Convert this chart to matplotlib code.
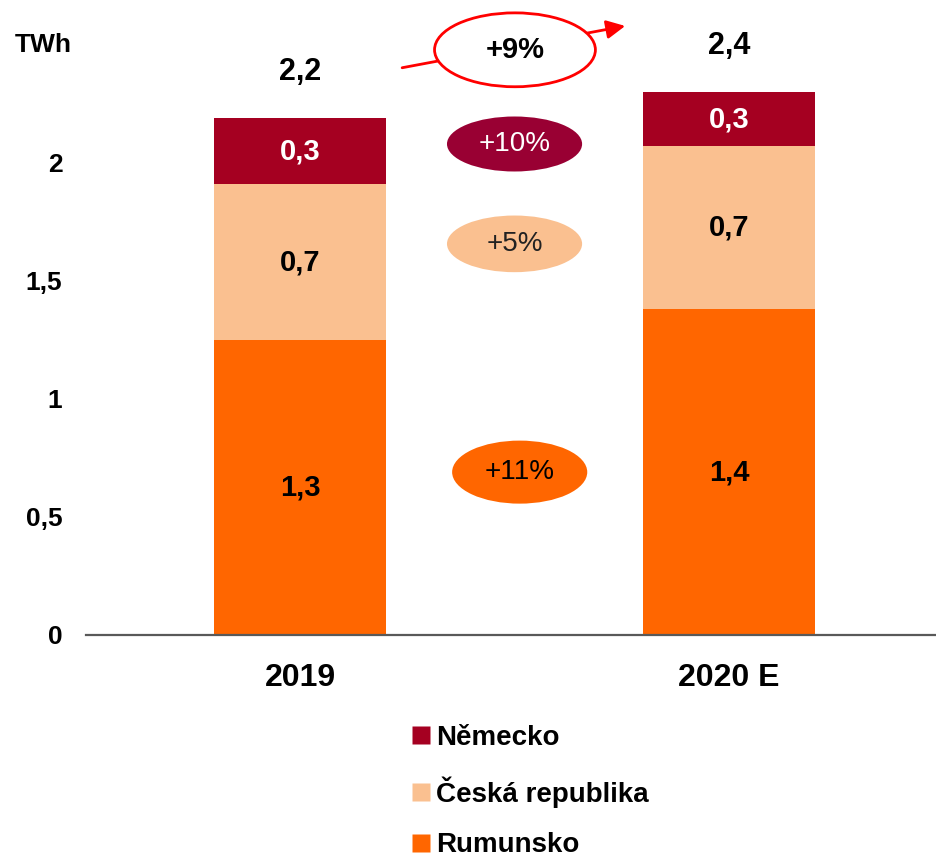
import matplotlib
matplotlib.use("Agg")
import matplotlib.pyplot as plt
from matplotlib.patches import Ellipse
from matplotlib.lines import Line2D

plt.rcParams['font.family'] = ['Liberation Sans', 'DejaVu Sans']

# ---- data ----
categories = ["2019", "2020 E"]
series_names = ["Rumunsko", "Česká republika", "Německo"]
rumunsko = [1.25, 1.38]
ceska = [0.66, 0.69]
nemecko = [0.28, 0.23]
rumunsko_labels = ["1,3", "1,4"]
ceska_labels = ["0,7", "0,7"]
nemecko_labels = ["0,3", "0,3"]
total_labels = ["2,2", "2,4"]
growth_total = "+9%"
growth_nemecko = "+10%"
growth_ceska = "+5%"
growth_rumunsko = "+11%"
yticks = [0, 0.5, 1, 1.5, 2]
ytick_labels = ["0", "0,5", "1", "1,5", "2"]
unit = "TWh"

# ---- style ----
c_rum = "#FF6600"
c_cz = "#FAC090"
c_de = "#A50021"

W, H = 936, 861
fig = plt.figure(figsize=(W / 100, H / 100), dpi=100)
ax = fig.add_axes([86 / W, (H - 635) / H, (W - 86) / W, 635 / H])

x = list(range(len(categories)))
bw = 0.4
b1 = ax.bar(x, rumunsko, bw, color=c_rum, label=series_names[0])
b2 = ax.bar(x, ceska, bw, bottom=rumunsko, color=c_cz, label=series_names[1])
bottom3 = [a + b for a, b in zip(rumunsko, ceska)]
b3 = ax.bar(x, nemecko, bw, bottom=bottom3, color=c_de, label=series_names[2])

ax.set_xlim(-0.499, 1.4825)
ax.set_ylim(0, 2.69)

for i in x:
    ax.text(i, rumunsko[i] / 2, rumunsko_labels[i], ha='center', va='center',
            fontsize=21, fontweight='bold', color='black')
    ax.text(i, rumunsko[i] + ceska[i] / 2, ceska_labels[i], ha='center', va='center',
            fontsize=21, fontweight='bold', color='black')
    ax.text(i, bottom3[i] + nemecko[i] / 2, nemecko_labels[i], ha='center', va='center',
            fontsize=21, fontweight='bold', color='white')
    top = bottom3[i] + nemecko[i]
    ax.annotate(total_labels[i], (i, top), xytext=(0, 33), textcoords='offset points',
                ha='center', va='center', fontsize=22, fontweight='bold')

# growth ellipses
ax.annotate('', xy=(0.758, 2.58), xytext=(0.238, 2.403),
            arrowprops=dict(arrowstyle='-|>', color='#FF0000', lw=2,
                            mutation_scale=28, shrinkA=0, shrinkB=0), zorder=3)
ax.add_patch(Ellipse((0.501, 2.479), 0.375, 0.313, facecolor='white',
                     edgecolor='#FF0000', lw=2, zorder=4))
ax.text(0.501, 2.479, growth_total, ha='center', va='center', fontsize=21,
        fontweight='bold', zorder=5)

ax.add_patch(Ellipse((0.50, 2.08), 0.315, 0.233, facecolor='#990033',
                     edgecolor='none', zorder=4))
ax.text(0.50, 2.08, growth_nemecko, ha='center', va='center', fontsize=20,
        color='white', zorder=5)

ax.add_patch(Ellipse((0.50, 1.657), 0.315, 0.24, facecolor=c_cz,
                     edgecolor='none', zorder=4))
ax.text(0.50, 1.657, growth_ceska, ha='center', va='center', fontsize=20,
        color='#222222', zorder=5)

ax.add_patch(Ellipse((0.512, 0.69), 0.315, 0.267, facecolor=c_rum,
                     edgecolor='none', zorder=4))
ax.text(0.512, 0.69, growth_rumunsko, ha='center', va='center', fontsize=20,
        color='black', zorder=5)

# axes styling
for s in ['top', 'right', 'left']:
    ax.spines[s].set_visible(False)
ax.spines['bottom'].set_color('#595959')
ax.spines['bottom'].set_linewidth(1.6)
ax.set_xticks(x)
ax.set_xticklabels(categories, fontsize=23, fontweight='bold')
ax.set_yticks(yticks)
ax.set_yticklabels(ytick_labels, fontsize=19, fontweight='bold')
ax.tick_params(axis='both', length=0)
ax.tick_params(axis='x', pad=20)
ax.tick_params(axis='y', pad=17)

fig.text(43.5 / W, 1 - 45 / H, unit, ha='center', va='center', fontsize=19,
         fontweight='bold')

handles = [Line2D([], [], marker='s', linestyle='none', markersize=13,
                  markerfacecolor=c, markeredgecolor='none')
           for c in (c_de, c_cz, c_rum)]
labels = [series_names[2], series_names[1], series_names[0]]
fig.legend(handles, labels, loc='upper left', bbox_to_anchor=(411 / W, 1 - 725 / H),
           frameon=False, prop=dict(size=20, weight='bold'), handlelength=0.72,
           handletextpad=0.18, labelspacing=0.9, borderpad=0, borderaxespad=0)

fig.savefig("out.png", dpi=100)
